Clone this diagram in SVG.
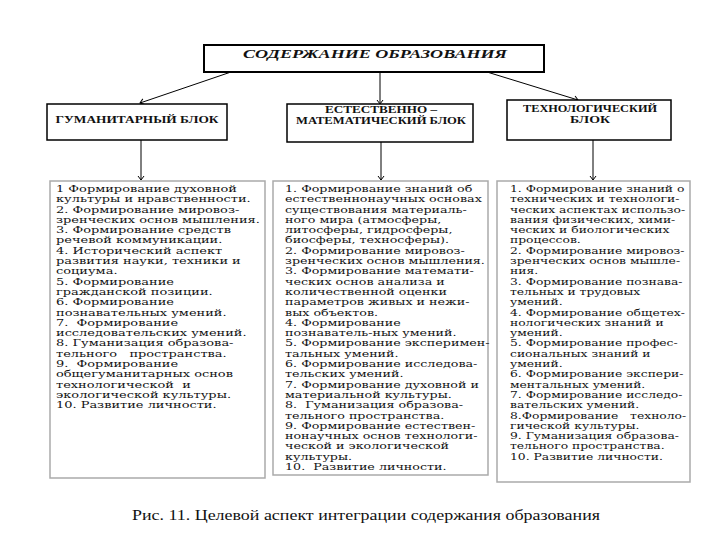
<svg xmlns="http://www.w3.org/2000/svg" width="720" height="540" viewBox="0 0 720 540">
<defs>
<marker id="arrd" markerWidth="8" markerHeight="8" refX="7" refY="4" orient="auto" markerUnits="userSpaceOnUse" viewBox="0 0 8 8">
<path d="M3,1 L7,4 L3,7" fill="none" stroke="#000" stroke-width="1"/>
</marker>
</defs>
<style>
.box{fill:#fff;stroke:#000;stroke-width:1.5}
.top{fill:#fff;stroke:#000;stroke-width:2}
.tbox{fill:#fff;stroke:#aaa;stroke-width:1.5}
.hd{font-family:"Liberation Serif","Times New Roman",serif;font-weight:bold;font-size:10.5px;fill:#111}
.ttl{font-family:"Liberation Serif","Times New Roman",serif;font-weight:bold;font-style:italic;font-size:13px;fill:#111}
.col{font-family:"DejaVu Serif","Liberation Serif",serif;font-size:9px;fill:#111}
.cap{font-family:"Liberation Serif","Times New Roman",serif;font-size:15px;fill:#111}
.ln{stroke:#000;stroke-width:1;fill:none}
</style>
<rect width="720" height="540" fill="#fff"/>

<g id="connectors">
<line class="ln" x1="231" y1="72" x2="140" y2="103" marker-end="url(#arrd)"/>
<line class="ln" x1="380" y1="72" x2="380" y2="104" marker-end="url(#arrd)"/>
<line class="ln" x1="487" y1="72" x2="578" y2="100" marker-end="url(#arrd)"/>
<line class="ln" x1="141" y1="140" x2="141" y2="180" marker-end="url(#arrd)"/>
<line class="ln" x1="381" y1="142" x2="381" y2="180" marker-end="url(#arrd)"/>
<line class="ln" x1="593" y1="140" x2="593" y2="180" marker-end="url(#arrd)"/>
</g>

<g id="node-root">
<rect class="top" x="204" y="45" width="340" height="27"/>
<text class="ttl" x="375" y="58" text-anchor="middle" textLength="264" lengthAdjust="spacingAndGlyphs">СОДЕРЖАНИЕ ОБРАЗОВАНИЯ</text>
</g>

<g id="node-hum">
<rect class="box" x="47" y="104" width="180" height="36"/>
<text class="hd" x="137" y="123" text-anchor="middle" textLength="163" lengthAdjust="spacingAndGlyphs">ГУМАНИТАРНЫЙ БЛОК</text>
</g>

<g id="node-nat">
<rect class="box" x="287" y="104" width="186" height="38"/>
<text class="hd" x="381" y="113" text-anchor="middle" textLength="112" lengthAdjust="spacingAndGlyphs">ЕСТЕСТВЕННО –</text>
<text class="hd" x="381" y="124" text-anchor="middle" textLength="170" lengthAdjust="spacingAndGlyphs">МАТЕМАТИЧЕСКИЙ БЛОК</text>
</g>

<g id="node-tech">
<rect class="box" x="507" y="100" width="164" height="40"/>
<text class="hd" x="590" y="112" text-anchor="middle" textLength="134" lengthAdjust="spacingAndGlyphs">ТЕХНОЛОГИЧЕСКИЙ</text>
<text class="hd" x="590" y="123" text-anchor="middle" textLength="40" lengthAdjust="spacingAndGlyphs">БЛОК</text>
</g>

<g id="list-hum">
<rect class="tbox" x="50" y="181" width="215" height="297"/>
<g transform="translate(56,0) scale(1.44,1)">
<text class="col" style="white-space:pre">
<tspan x="0" y="192">1 Формирование духовной</tspan>
<tspan x="0" dy="10.3">культуры и нравственности.</tspan>
<tspan x="0" dy="10.3">2. Формирование мировоз-</tspan>
<tspan x="0" dy="10.3">зренческих основ мышления.</tspan>
<tspan x="0" dy="10.3">3. Формирование средств</tspan>
<tspan x="0" dy="10.3">речевой коммуникации.</tspan>
<tspan x="0" dy="10.3">4. Исторический аспект</tspan>
<tspan x="0" dy="10.3">развития науки, техники и</tspan>
<tspan x="0" dy="10.3">социума.</tspan>
<tspan x="0" dy="10.3">5. Формирование</tspan>
<tspan x="0" dy="10.3">гражданской позиции.</tspan>
<tspan x="0" dy="10.3">6. Формирование</tspan>
<tspan x="0" dy="10.3">познавательных умений.</tspan>
<tspan x="0" dy="10.3">7.  Формирование</tspan>
<tspan x="0" dy="10.3">исследовательских умений.</tspan>
<tspan x="0" dy="10.3">8. Гуманизация образова-</tspan>
<tspan x="0" dy="10.3">тельного   пространства.</tspan>
<tspan x="0" dy="10.3">9.  Формирование</tspan>
<tspan x="0" dy="10.3">общегуманитарных основ</tspan>
<tspan x="0" dy="10.3">технологической  и</tspan>
<tspan x="0" dy="10.3">экологической культуры.</tspan>
<tspan x="0" dy="10.3">10. Развитие личности.</tspan>
</text>
</g>
</g>

<g id="list-nat">
<rect class="tbox" x="273" y="181" width="215" height="294"/>
<g transform="translate(285,0) scale(1.41,1)">
<text class="col" style="white-space:pre">
<tspan x="0" y="192">1. Формирование знаний об</tspan>
<tspan x="0" dy="10.3">естественнонаучных основах</tspan>
<tspan x="0" dy="10.3">существования материаль-</tspan>
<tspan x="0" dy="10.3">ного мира (атмосферы,</tspan>
<tspan x="0" dy="10.3">литосферы, гидросферы,</tspan>
<tspan x="0" dy="10.3">биосферы, техносферы).</tspan>
<tspan x="0" dy="10.3">2. Формирование мировоз-</tspan>
<tspan x="0" dy="10.3">зренческих основ мышления.</tspan>
<tspan x="0" dy="10.3">3. Формирование математи-</tspan>
<tspan x="0" dy="10.3">ческих основ анализа и</tspan>
<tspan x="0" dy="10.3">количественной оценки</tspan>
<tspan x="0" dy="10.3">параметров живых и нежи-</tspan>
<tspan x="0" dy="10.3">вых объектов.</tspan>
<tspan x="0" dy="10.3">4. Формирование</tspan>
<tspan x="0" dy="10.3">познаватель-ных умений.</tspan>
<tspan x="0" dy="10.3">5. Формирование эксперимен-</tspan>
<tspan x="0" dy="10.3">тальных умений.</tspan>
<tspan x="0" dy="10.3">6. Формирование исследова-</tspan>
<tspan x="0" dy="10.3">тельских умений.</tspan>
<tspan x="0" dy="10.3">7. Формирование духовной и</tspan>
<tspan x="0" dy="10.3">материальной культуры.</tspan>
<tspan x="0" dy="10.3">8.  Гуманизация образова-</tspan>
<tspan x="0" dy="10.3">тельного пространства.</tspan>
<tspan x="0" dy="10.3">9. Формирование естествен-</tspan>
<tspan x="0" dy="10.3">нонаучных основ технологи-</tspan>
<tspan x="0" dy="10.3">ческой и экологической</tspan>
<tspan x="0" dy="10.3">культуры.</tspan>
<tspan x="0" dy="10.3">10.  Развитие личности.</tspan>
</text>
</g>
</g>

<g id="list-tech">
<rect class="tbox" x="497" y="181" width="193" height="301"/>
<g transform="translate(510,0) scale(1.37,1)">
<text class="col" style="white-space:pre">
<tspan x="0" y="192">1. Формирование знаний о</tspan>
<tspan x="0" dy="10.3">технических и технологи-</tspan>
<tspan x="0" dy="10.3">ческих аспектах использо-</tspan>
<tspan x="0" dy="10.3">вания физических, хими-</tspan>
<tspan x="0" dy="10.3">ческих и биологических</tspan>
<tspan x="0" dy="10.3">процессов.</tspan>
<tspan x="0" dy="10.3">2. Формирование мировоз-</tspan>
<tspan x="0" dy="10.3">зренческих основ мышле-</tspan>
<tspan x="0" dy="10.3">ния.</tspan>
<tspan x="0" dy="10.3">3. Формирование познава-</tspan>
<tspan x="0" dy="10.3">тельных и трудовых</tspan>
<tspan x="0" dy="10.3">умений.</tspan>
<tspan x="0" dy="10.3">4. Формирование общетех-</tspan>
<tspan x="0" dy="10.3">нологических знаний и</tspan>
<tspan x="0" dy="10.3">умений.</tspan>
<tspan x="0" dy="10.3">5. Формирование профес-</tspan>
<tspan x="0" dy="10.3">сиональных знаний и</tspan>
<tspan x="0" dy="10.3">умений.</tspan>
<tspan x="0" dy="10.3">6. Формирование экспери-</tspan>
<tspan x="0" dy="10.3">ментальных умений.</tspan>
<tspan x="0" dy="10.3">7. Формирование исследо-</tspan>
<tspan x="0" dy="10.3">вательских умений.</tspan>
<tspan x="0" dy="10.3">8.Формирование   техноло-</tspan>
<tspan x="0" dy="10.3">гической культуры.</tspan>
<tspan x="0" dy="10.3">9. Гуманизация образова-</tspan>
<tspan x="0" dy="10.3">тельного пространства.</tspan>
<tspan x="0" dy="10.3">10. Развитие личности.</tspan>
</text>
</g>
</g>

<text class="cap" x="132" y="520" textLength="468" lengthAdjust="spacingAndGlyphs">Рис. 11. Целевой аспект интеграции содержания образования</text>
</svg>
